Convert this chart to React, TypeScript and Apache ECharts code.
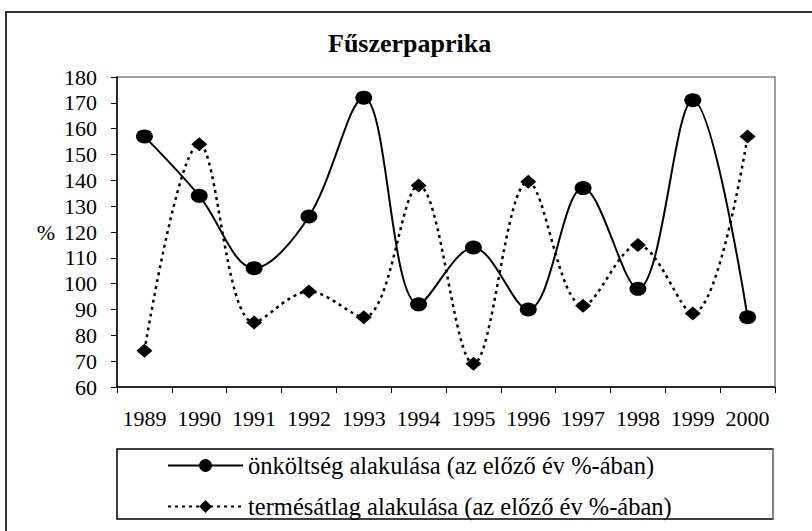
import React, { useEffect, useRef } from "react";
import * as echarts from "echarts";

const years = ["1989", "1990", "1991", "1992", "1993", "1994", "1995", "1996", "1997", "1998", "1999", "2000"];
const costSeries = [157, 134, 106, 126, 172, 92, 114, 90, 137, 98, 171, 87];
const yieldSeries = [74, 154, 85, 97, 87, 138, 69, 139.5, 91.5, 115, 88.5, 157];
const costName = "önköltség alakulása (az előző év %-ában)";
const yieldName = "termésátlag alakulása (az előző év %-ában)";
const titleText = "Fűszerpaprika";

const FONT = "Liberation Serif";

export default function App() {
  const ref = useRef<HTMLDivElement>(null);
  useEffect(() => {
    if (!ref.current) return;
    const chart = echarts.init(ref.current, null, { renderer: "svg" });
    chart.setOption({
      animation: false,
      backgroundColor: "#ffffff",
      textStyle: { fontFamily: FONT },
      title: {
        text: titleText,
        left: 328,
        top: 30,
        padding: 0,
        textStyle: { fontFamily: FONT, fontWeight: "bold", fontSize: 26, color: "#000" },
      },
      grid: {
        left: 117,
        top: 77,
        right: 37,
        bottom: 144,
        show: true,
        borderColor: "#808080",
        borderWidth: 1.5,
        containLabel: false,
      },
      legend: {
        orient: "vertical",
        left: 167,
        top: 453,
        padding: 0,
        itemWidth: 75,
        itemHeight: 16,
        itemGap: 16,
        data: [costName, yieldName],
        textStyle: { fontFamily: FONT, fontSize: 24.5, color: "#000" },
      },
      xAxis: {
        type: "category",
        data: years,
        boundaryGap: true,
        axisLine: { show: true, lineStyle: { color: "#000", width: 1.5 } },
        axisTick: { show: true, length: 6, inside: false, lineStyle: { color: "#000", width: 1 } },
        axisLabel: { fontFamily: FONT, fontSize: 22, color: "#000", margin: 20, interval: 0 },
        splitLine: { show: false },
      },
      yAxis: {
        type: "value",
        min: 60,
        max: 180,
        interval: 10,
        axisLine: { show: true, lineStyle: { color: "#000", width: 1.5 } },
        axisTick: { show: true, length: 6, inside: false, lineStyle: { color: "#000", width: 1 } },
        axisLabel: { fontFamily: FONT, fontSize: 22, color: "#000", margin: 20 },
        splitLine: { show: false },
      },
      graphic: [
        {
          type: "rect",
          shape: { x: 6, y: 12, width: 900, height: 600 },
          style: { fill: "none", stroke: "#333", lineWidth: 2 },
          silent: true,
        },
        {
          type: "rect",
          shape: { x: 117, y: 449, width: 656, height: 70 },
          style: { fill: "none", stroke: "#000", lineWidth: 1.5 },
          silent: true,
        },
        {
          type: "line",
          shape: { x1: 773, y1: 449, x2: 773, y2: 519 },
          style: { stroke: "#808080", lineWidth: 2 },
          silent: true,
        },
        {
          type: "text",
          x: 46,
          y: 232,
          style: {
            text: "%",
            fontFamily: FONT,
            fontSize: 22,
            fill: "#000",
            align: "center",
            verticalAlign: "middle",
          },
          silent: true,
        },
      ],
      series: [
        {
          name: costName,
          type: "line",
          data: costSeries,
          smooth: 0.35,
          symbol: "circle",
          symbolSize: [17, 14],
          itemStyle: { color: "#000" },
          lineStyle: { color: "#000", width: 2, type: "solid" },
          z: 3,
        },
        {
          name: yieldName,
          type: "line",
          data: yieldSeries,
          smooth: 0.35,
          symbol: "diamond",
          symbolSize: [16, 14],
          itemStyle: { color: "#000" },
          lineStyle: { color: "#000", width: 2.5, type: [3, 4] },
          z: 2,
        },
      ],
    });
    return () => chart.dispose();
  }, []);
  return (
    <div
      ref={ref}
      style={{ position: "fixed", left: 0, top: 0, width: 812, height: 531, background: "#fff" }}
    />
  );
}
